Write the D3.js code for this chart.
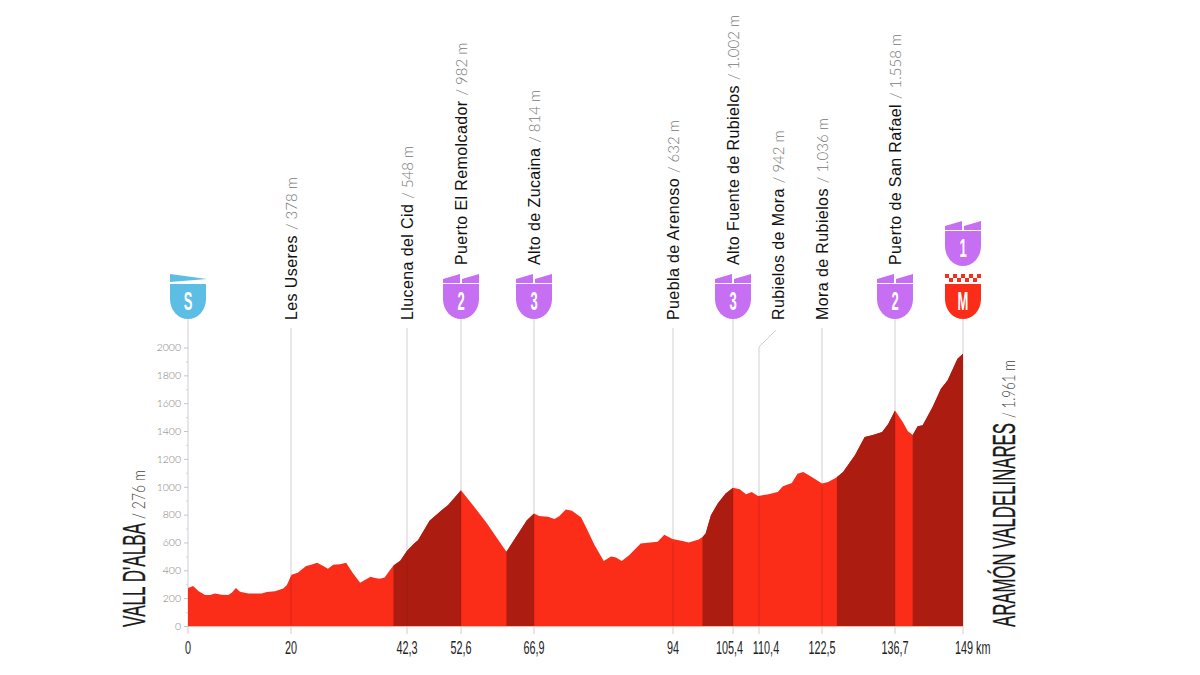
<!DOCTYPE html>
<html><head><meta charset="utf-8">
<script src="https://cdn.jsdelivr.net/npm/d3@7"></script>
<style>html,body{margin:0;background:#fff}svg{display:block}</style></head>
<body><svg id="c" width="1200" height="675"></svg>
<script>
// ---- data ----
const profileKm = [0,1,2,3.3,4.3,5.2,6.5,7.8,8.5,9.3,10.1,11.7,14.3,15.3,16.9,18.5,19.2,20.1,21.3,22.9,23.9,25,26.2,27.1,28.1,29.4,30.6,31.9,33.3,34.2,35.3,36.1,37.1,38,39,39.7,41,42.3,43.8,44.4,46.6,48.9,50.1,52.6,55.1,57.7,59.7,61.5,63.3,65.5,66.9,67.9,69.6,70.9,71.8,73.1,74.3,76.1,77,78.7,80.5,81.9,82.9,84,85.5,87.7,91,92.3,93.9,95.8,97,98.9,99.6,100.2,101.2,102.5,104,105.4,106.7,107.9,109,110.2,112,114,115,116.7,117.8,118.9,120.3,122.5,123.7,125.3,126.6,128.9,130.8,132.4,134.2,135.4,136.7,138.1,139,139.9,140.8,141.7,143.5,145,146.2,148,149];
const profileElev = [272,287,251,222,222,234,225,222,239,272,246,234,234,244,249,270,294,368,382,430,440,454,430,411,440,444,454,378,311,330,354,344,339,349,401,435,468,540,597,616,755,832,867,975,860,736,628,533,636,760,808,790,784,769,788,836,827,779,712,581,466,499,492,466,509,593,605,655,624,610,600,621,640,664,796,879,951,992,982,946,963,934,944,963,1004,1027,1094,1106,1075,1023,1035,1066,1106,1226,1357,1372,1393,1453,1548,1465,1400,1372,1434,1441,1572,1704,1763,1919,1955];
const climbStart = [39.7,61.5,99.6,125.4,139.9];
const climbEnd   = [52.6,66.9,105.4,136.7,149];
const kmTicks = [0,20,42.3,52.6,66.9,94,105.4,110.4,122.5,136.7,149];
const kmLabels = ["0","20","42,3","52,6","66,9","94","105,4","110,4","122,5","136,7","149 km"];
const elevTicks = [0,200,400,600,800,1000,1200,1400,1600,1800,2000];
const elevMinor = [100,300,500,700,900,1100,1300,1500,1700,1900];
const placeKm   = [20,42.3,52.6,66.9,94,105.4,110.4,122.5,136.7];
const placeName = ["Les Useres","Llucena del Cid","Puerto El Remolcador","Alto de Zucaina","Puebla de Arenoso","Alto Fuente de Rubielos","Rubielos de Mora","Mora de Rubielos","Puerto de San Rafael"];
const placeAlt  = ["/ 378 m","/ 548 m","/ 982 m","/ 814 m","/ 632 m","/ 1.002 m","/ 942 m","/ 1.036 m","/ 1.558 m"];
const climbKm   = [52.6,66.9,105.4,136.7,149];
const climbCat  = ["2","3","3","2","1"];
const startName = "VALL D'ALBA", startAlt = "/ 276 m";
const finishName = "ARAMÓN VALDELINARES", finishAlt = "/ 1.961 m";

// ---- scales ----
const xPixelKnots = [188,291,407,461,534,673,733,759,822,895,963];
const x = d3.scaleLinear().domain(kmTicks).range(xPixelKnots);
const y = d3.scaleLinear().domain([0,2000]).range([626,347.5]);
const RED="#fb2c18", DARK="#ac1c11", PURPLE="#c66ff2", BLUE="#5cbde5", GRID="#cfcfd2";
const svg = d3.select("#c");
const profile = profileKm.map((k,i)=>({k,e:profileElev[i]}));
const area = d3.area().x(d=>x(d.k)).y0(y(0)).y1(d=>y(d.e));

// ---- grid lines (under profile) ----
const stemTop = k => k===0||k===149 ? 319 : (placeKm.includes(k) && climbKm.includes(k) ? 319 : 328);
svg.append("g").selectAll("line").data(kmTicks).join("line")
  .attr("x1",d=>x(d)).attr("x2",d=>x(d))
  .attr("y1",d=>d===110.4?347:stemTop(d)).attr("y2",634)
  .attr("stroke",GRID).attr("stroke-width",1);
svg.append("path").attr("d",d3.line()([[x(110.4),347],[x(110.4)+17,330]]))
  .attr("stroke",GRID).attr("fill","none");

// ---- y axis ----
const gy = svg.append("g").attr("transform",`translate(${x(0)},0)`)
  .call(d3.axisLeft(y).tickValues(elevTicks).tickSize(4).tickPadding(3).tickFormat(d3.format("d")));
gy.select(".domain").remove();
gy.selectAll("line").attr("stroke","#c4c4c4");
gy.selectAll("text").attr("fill","#7c7c7c").style("font","300 10.5px Lato");
const gm = svg.append("g").attr("transform",`translate(${x(0)},0)`)
  .call(d3.axisLeft(y).tickValues(elevMinor).tickSize(2).tickFormat(""));
gm.select(".domain").remove();
gm.selectAll("line").attr("stroke","#d4d4d4");

// ---- profile ----
svg.append("path").datum(profile).attr("d",area).attr("fill",RED);
const defs = svg.append("defs");
const cp = defs.append("clipPath").attr("id","climbs");
cp.selectAll("rect").data(climbStart).join("rect")
  .attr("x",d=>x(d)).attr("y",0).attr("height",675)
  .attr("width",(d,i)=>x(climbEnd[i])-x(d));
svg.append("path").datum(profile).attr("d",area).attr("fill",DARK).attr("clip-path","url(#climbs)");
svg.append("g").selectAll("line").data(kmTicks.slice(1,-1)).join("line")
  .attr("x1",d=>x(d)).attr("x2",d=>x(d)).attr("y1",d=>y(profileElev[profileKm.findIndex(k=>k>=d)])+2).attr("y2",626)
  .attr("stroke","#7a1a12").attr("stroke-opacity",.28);
svg.append("line").attr("x1",x(0)).attr("x2",x(149)).attr("y1",y(0)+.5).attr("y2",y(0)+.5).attr("stroke","#f7b6ac");

// ---- x axis ----
const labelNudge = d => d===105.4 ? -3.5 : d===110.4 ? 7 : d===149 ? -8 : 0;
const gx = svg.append("g").attr("transform","translate(0,634)")
  .call(d3.axisBottom(x).tickValues(kmTicks).tickSize(0).tickPadding(0).tickFormat((d,i)=>kmLabels[i]));
gx.select(".domain").remove();
gx.selectAll(".tick").attr("transform",null);
gx.selectAll("text").attr("x",0).attr("y",0).attr("dy",0).attr("fill","#222")
  .attr("text-anchor",d=>d===149?"start":"middle")
  .style("font","400 17.5px 'Liberation Sans'")
  .attr("transform",d=>`translate(${x(d)+labelNudge(d)},20) scale(0.62,1)`);

// ---- place labels ----
const lab = svg.append("g").selectAll("g").data(placeKm).join("g")
  .attr("transform",(d,i)=>{
    const cx = d===110.4 ? x(d)+19 : x(d);
    const by = climbKm.includes(d) ? 265 : 320;
    return `translate(${cx},${by}) rotate(-90)`;
  });
const lt = lab.append("text").attr("dy","0.36em").style("font","400 16px 'Liberation Sans'").style("letter-spacing","0.4px").attr("fill","#111");
lt.append("tspan").text((d,i)=>placeName[i]);
lt.append("tspan").attr("dx",5).attr("fill","#777").style("font","300 15px Lato").style("letter-spacing","0").text((d,i)=>placeAlt[i]);

// ---- shields ----
const body = "M-18,0H18V15A18,20 0 0 1 -18,15Z";
function shield(cx,top,fill,deco,txt){
  const g = svg.append("g").attr("transform",`translate(${cx},${top})`);
  if(deco==="teeth"){
    g.append("path").attr("fill",fill).attr("d","M-18,-1V-5L-1,-10V-1ZM1,-1V-5L18,-10V-1Z");
  }
  if(deco==="flag"){
    g.append("path").attr("fill",fill).attr("d","M-18,-2V-10L19,-5L-18,-2Z");
  }
  if(deco==="check"){
    d3.range(0,9).forEach(i=>d3.range(0,2).forEach(j=>{
      if((i+j)%2===0) g.append("rect").attr("x",-18+i*4).attr("y",-10+j*4).attr("width",4).attr("height",4).attr("fill",fill);
    }));
    d3.range(0,9).forEach(i=>{ if(i%2===1) g.append("rect").attr("x",-18+i*4).attr("y",-6).attr("width",4).attr("height",4).attr("fill",fill);});
  }
  g.append("path").attr("d",body).attr("fill",fill);
  g.append("text").attr("text-anchor","middle").attr("fill","#fff")
    .style("font","700 26px 'Liberation Sans'")
    .attr("transform","translate(0,26) scale(0.5,1)").text(txt);
}
shield(x(0),284,BLUE,"flag","S");
climbKm.forEach((k,i)=>{
  const top = k===149 ? 231 : 284;
  shield(x(k),top,PURPLE,"teeth",climbCat[i]);
});
shield(x(149),284,RED,"check","M");

// ---- start / finish names ----
function bigLabel(px,py,name,nameLen,alt,altLen,gap){
  const g = svg.append("g").attr("transform",`translate(${px},${py}) rotate(-90)`);
  g.append("text").attr("textLength",nameLen).attr("lengthAdjust","spacingAndGlyphs")
    .style("font","400 32px 'Liberation Sans'").attr("fill","#1a1a1a").attr("stroke","#1a1a1a").attr("stroke-width",.3).text(name);
  g.append("text").attr("x",nameLen+gap).attr("textLength",altLen).attr("lengthAdjust","spacingAndGlyphs")
    .style("font","300 17px Lato").attr("fill","#444").text(alt);
}
bigLabel(145,627,startName,104,startAlt,49,4);
bigLabel(1015,627,finishName,204,finishAlt,58,5);
</script></body></html>
